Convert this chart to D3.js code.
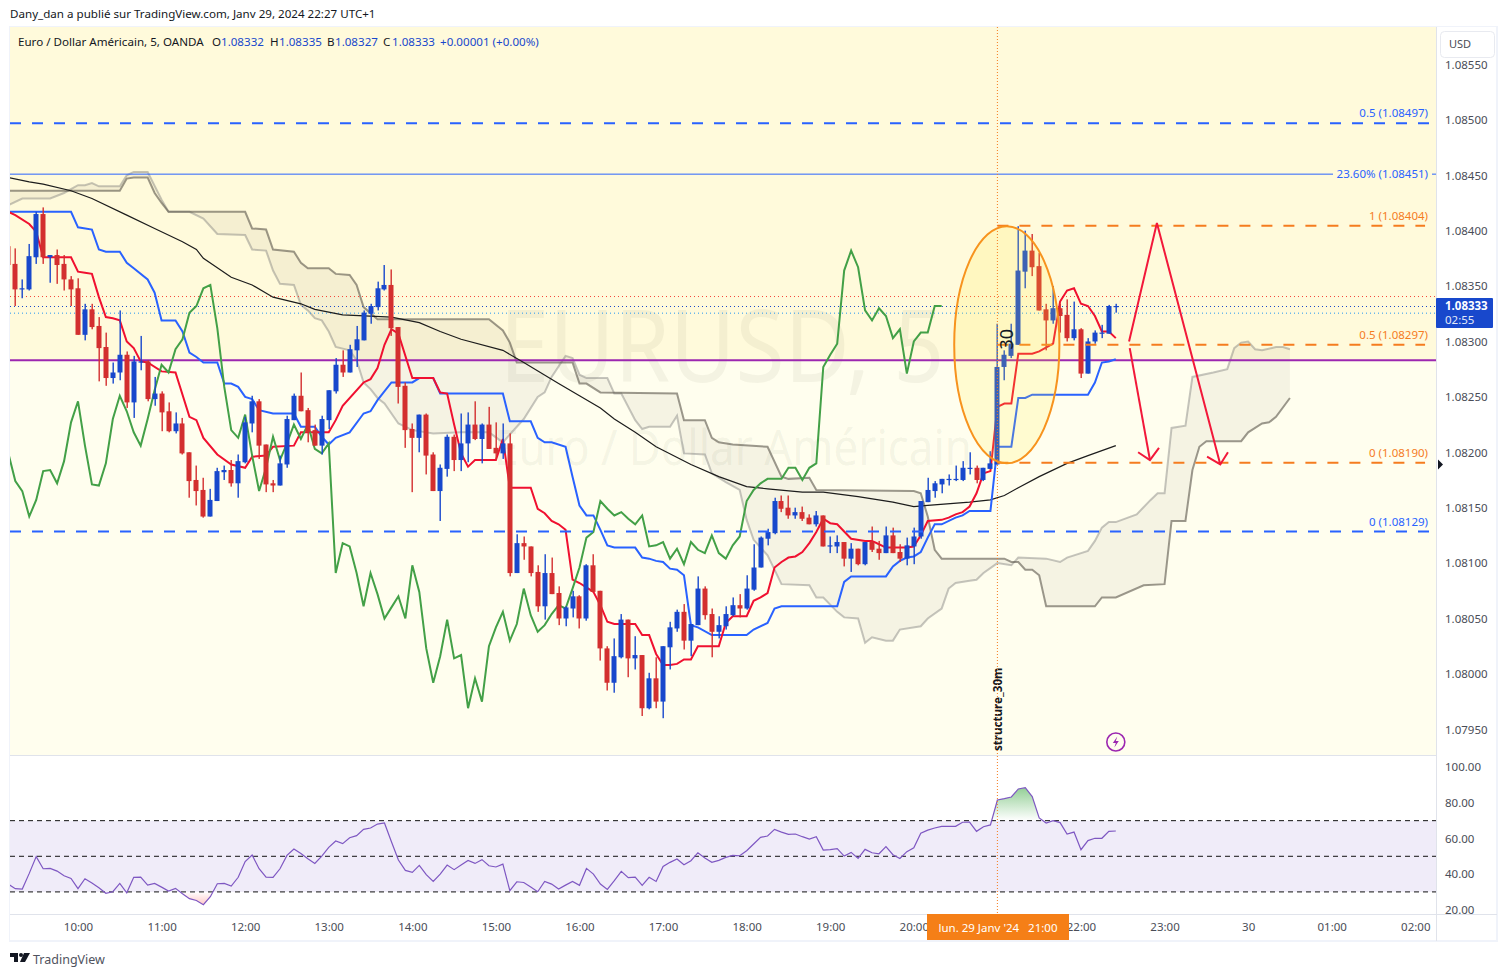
<!DOCTYPE html>
<html>
  <head>
    <meta charset="utf-8" />
    <title>EURUSD 5</title>
    <script src="https://d3js.org/d3.v7.min.js"></script>
    <style type="text/css">
      html, body { margin: 0; padding: 0; background: #fff; }
      svg { display: block; }
      text { font-family: "Noto Sans", "Open Sans", sans-serif; }
    </style>
  </head>

  <body>
    <svg id="chart" width="1508" height="977"></svg>
    <script type="text/javascript">
      // all prices are in points above 1.08000 (338 = 1.08338), bars are counted from 10:00
      var firstBar = -10;
      var opens = [387,371,348,348,377,416,377,379,371,357,349,307,330,315,296,268,273,289,246,282,283,249,254,238,220,227,201,176,167,143,157,183,185,173,192,227,247,208,173,171,190,230,252,239,221,207,230,256,280,273,293,302,326,332,348,352,314,261,222,214,235,199,166,186,215,194,209,226,213,226,205,200,209,92,119,116,93,62,92,74,51,60,71,51,99,76,24,-7,16,50,15,18,-30,-3,-24,25,42,57,31,45,78,55,39,44,54,63,60,77,97,123,128,157,151,144,147,142,136,144,116,116,120,105,114,100,120,114,110,126,111,105,116,125,156,166,172,177,176,176,186,187,176,186,190,278,288,298,364,383,369,330,320,331,325,304,312,272,301,309,308,332];
      var highs = [387,385,357,389,418,422,379,384,379,360,358,335,335,323,309,282,329,292,288,306,284,269,256,246,237,232,201,189,178,168,187,189,194,199,233,252,249,208,176,198,234,254,273,241,226,234,257,286,293,298,315,329,335,355,370,366,314,264,227,235,236,201,190,217,217,236,237,247,227,242,228,227,218,127,125,116,99,109,106,80,62,76,72,100,109,76,26,33,55,50,35,18,2,16,26,48,59,64,46,89,80,60,53,62,70,73,90,118,125,132,160,162,162,151,152,145,148,144,125,126,120,119,114,120,134,121,134,133,118,124,133,157,178,175,177,181,189,193,201,189,187,202,317,293,317,405,401,398,381,335,351,335,339,337,313,304,311,316,334,335];
      var lows = [370,333,340,347,371,371,354,353,347,333,307,302,312,265,261,263,266,241,232,275,247,243,220,219,218,199,160,153,142,143,157,176,170,160,191,219,195,165,165,171,187,230,238,210,207,199,222,254,269,273,278,302,317,329,347,306,245,205,165,201,181,166,139,179,184,184,192,212,191,204,194,195,89,92,104,89,57,50,73,45,44,52,42,49,75,13,-14,-16,15,-2,5,-37,-31,-30,-39,5,39,23,17,45,50,16,33,41,53,52,59,76,97,117,127,147,141,141,139,136,134,116,110,110,98,93,99,99,111,104,110,110,102,99,100,123,156,160,164,171,175,175,181,173,175,186,190,266,286,298,349,360,329,293,317,309,301,302,268,272,299,304,308,327];
      var closes = [370,348,349,378,416,377,379,370,357,348,307,330,314,295,268,273,289,246,283,283,249,254,237,220,227,200,175,166,143,158,184,185,173,193,228,247,207,172,171,191,231,252,238,219,207,231,257,280,273,294,303,327,333,349,352,313,260,221,214,235,198,166,187,215,194,209,226,213,226,204,200,209,92,119,116,92,62,92,73,51,61,71,51,99,75,24,-7,17,50,15,18,-30,-3,-24,26,43,57,31,46,78,54,39,45,55,63,60,78,97,124,129,157,150,144,147,141,136,144,116,117,120,105,114,100,120,113,110,126,110,105,117,125,157,167,173,177,177,177,187,187,176,187,191,278,289,299,365,383,368,329,320,331,324,304,312,272,301,309,309,333,333];

      // indicators as [bar, points] corners
      var conversion = [[-10,418],[-9,415],[-7,407],[-6,400],[-5,377],[-1,377],[0,364],[1,363],[2,362],[3,341],[4,323],[5,322],[6,320],[7,301],[8,295],[9,283],[10,282],[12,274],[14,273],[16,233],[17,230],[18,214],[20,199],[22,190],[24,187],[25,197],[27,198],[28,206],[31,207],[32,219],[36,219],[37,230],[38,243],[41,264],[42,267],[43,277],[44,298],[45,312],[46,308],[48,268],[51,268],[52,255],[53,254],[54,226],[55,200],[56,188],[57,194],[60,194],[61,213],[62,169],[65,169],[66,150],[67,146],[68,139],[69,136],[70,131],[71,86],[72,83],[73,79],[74,75],[75,63],[76,48],[77,46],[80,46],[81,36],[82,36],[83,19],[84,9],[85,9],[86,10],[87,14],[88,14],[89,26],[92,26],[93,47],[94,53],[96,53],[97,67],[98,70],[99,74],[100,97],[101,102],[102,106],[103,107],[104,111],[105,119],[106,129],[107,141],[108,137],[109,136],[111,123],[113,121],[114,121],[115,118],[116,115],[119,115],[120,116],[121,126],[122,139],[124,140],[125,142],[126,145],[127,147],[128,152],[129,164],[130,182],[131,184],[132,242],[133,245],[134,245],[135,290],[137,290],[138,292],[140,299],[141,337],[142,347],[143,349],[144,335],[145,333],[146,324],[147,310],[148,310],[149,304]];
      var baseLine = [[-10,418],[-1,418],[0,404],[2,402],[3,384],[4,382],[6,382],[7,372],[8,367],[10,357],[11,345],[12,320],[14,320],[15,310],[16,291],[17,287],[18,282],[20,282],[21,263],[22,263],[23,260],[24,251],[25,249],[26,239],[28,236],[31,236],[32,224],[34,224],[35,215],[36,208],[37,214],[39,219],[41,236],[42,238],[43,248],[45,264],[48,264],[49,268],[51,268],[52,254],[61,254],[62,229],[65,229],[66,214],[67,210],[68,210],[70,206],[71,179],[72,153],[73,144],[74,144],[75,131],[76,117],[77,115],[80,115],[81,106],[82,105],[83,103],[84,102],[85,96],[86,95],[87,90],[88,45],[89,43],[91,36],[96,36],[97,41],[99,47],[100,60],[101,62],[109,62],[110,84],[111,89],[116,89],[117,98],[118,103],[119,106],[120,107],[121,111],[122,124],[123,136],[124,136],[126,142],[127,144],[128,148],[131,148],[132,206],[134,206],[135,250],[136,250],[137,253],[145,253],[146,264],[147,282],[148,283],[149,285]];
      var spanA = [[-10,424],[-8,430],[-4,430],[-2,435],[0,442],[1,442],[2,444],[3,441],[6,441],[7,451],[8,454],[10,454],[12,429],[13,418],[16,418],[18,412],[20,398],[24,397],[25,384],[27,383],[28,365],[29,353],[31,352],[32,334],[33,329],[34,322],[35,320],[36,310],[37,296],[39,293],[40,284],[41,264],[42,258],[43,250],[44,245],[46,227],[48,221],[51,218],[55,219],[59,219],[61,210],[64,231],[66,251],[67,255],[68,269],[70,288],[71,286],[72,271],[73,268],[76,268],[77,254],[78,254],[80,230],[81,222],[82,224],[85,224],[86,234],[87,200],[90,199],[91,182],[93,174],[95,167],[96,140],[97,122],[99,108],[101,82],[105,81],[106,70],[107,70],[109,57],[110,52],[112,51],[113,29],[114,34],[116,31],[117,31],[118,41],[121,44],[122,51],[124,60],[125,78],[126,83],[128,85],[129,86],[130,92],[132,101],[134,99],[135,106],[139,105],[141,102],[142,106],[145,112],[146,121],[147,133],[148,138],[149,138],[152,145],[154,158],[155,164],[156,164],[157,223],[159,225],[160,269],[163,273],[165,276],[166,295],[167,300],[168,301],[169,294],[170,293],[172,296],[173,296],[174,294]];
      var spanB = [[-10,437],[6,437],[7,448],[8,449],[10,449],[11,435],[12,426],[13,418],[24,418],[25,403],[27,402],[28,384],[31,382],[32,372],[33,367],[36,367],[37,362],[39,361],[40,352],[41,332],[43,321],[59,321],[61,311],[62,300],[63,282],[71,282],[72,263],[73,263],[75,255],[86,254],[87,230],[90,230],[91,214],[92,210],[94,208],[99,206],[101,179],[102,177],[105,178],[106,167],[120,166],[121,164],[122,143],[123,113],[124,105],[133,105],[134,102],[135,102],[136,95],[137,95],[138,90],[139,62],[146,62],[147,70],[149,70],[153,81],[156,82],[157,139],[159,139],[160,185],[161,206],[162,211],[167,211],[168,219],[170,227],[171,228],[172,233],[174,250]];
      var movingAvg = [[-10,449],[-7,445],[-5,443],[-1,437],[2,430],[7,415],[11,403],[15,391],[17,384],[18,376],[22,359],[25,352],[28,341],[32,335],[34,330],[38,325],[45,323],[49,318],[52,310],[55,303],[61,293],[64,282],[69,263],[72,252],[75,241],[77,231],[80,219],[83,206],[88,190],[92,179],[96,170],[99,168],[104,165],[107,165],[112,161],[117,156],[120,152],[122,153],[128,156],[131,158],[133,162],[135,169],[138,179],[142,191],[145,198],[149,207]];
      var laggingShift = 25;

      var rsiValues = [34.4,31.8,31.6,40.4,49.8,43,43.2,41.7,39.1,37.6,31.8,37.4,35,32.3,29.2,30.1,34.8,29.5,38.2,38.3,33.8,34.8,32.7,30.5,32,29,26.2,25.2,22.8,27.3,34.6,34.8,33.3,38.2,47,50.7,43,38.3,38.2,43,50.5,54.1,51.6,48.6,46,50.1,55,58.6,57.1,60.4,61.6,65.1,65.9,68.1,68.7,58.2,47.9,42.1,41,44.9,39.7,35.9,40,45.1,42.5,45.1,47.7,46,48.1,44.7,44,45.6,30.7,35.7,35.3,32.7,30.1,35.9,34.4,31.6,33.8,35.9,33.7,43.2,40,34.4,31.4,36.3,41.5,38,38.3,33.7,38.2,35.9,44.3,46.6,48.5,45.3,47.5,52,49,46.6,47.7,49.4,50.5,50.3,53.1,56.9,60.6,61.4,65.1,63.6,62.3,62.5,61,59.7,61,53.5,53.7,54.3,50.1,52.2,48.8,53.9,52,51.4,55.4,50.9,48.8,52.6,54.8,62.9,64.7,65.9,66.8,66.8,66.8,69.1,69.2,64,66.6,67.6,81.6,82.4,83.3,87.8,88.5,83.5,71.5,68.7,70,68.9,62.5,63.6,53.7,58.8,60.1,60.1,64,64.2];

      var priceTicks = [-50,0,50,100,150,200,250,300,350,400,450,500,550];
      var rsiTicks = [20,40,60,80,100];
      var rsiBands = [70,50,30];
      // 21:00 sits under the orange crosshair label
      var timeTicks = [0,12,24,36,48,60,72,84,96,108,120,144,156,168,180,192];
      var timeLabels = ['10:00','11:00','12:00','13:00','14:00','15:00','16:00','17:00','18:00','19:00','20:00','22:00','23:00','30','01:00','02:00'];

      // level heights as they lie in the picture, labels as printed on it
      var blueLevels = [[498,'0.5 (1.08497)'],[129.5,'0 (1.08129)']];
      var retraceLevel = [452,'23.60% (1.08451)'];
      var orangeLevels = [[405.5,'1 (1.08404)'],[298,'0.5 (1.08297)'],[191.5,'0 (1.08190)']];
      var orangeBars = [132,193.4];
      var purpleLevel = 284;
      var dottedLevels = [[342,'#f44336'],[333,'#1848cc'],[327,'#2196f3']];
      var lastPrice = 333;
      var crossBar = 132;
      var ellipseBars = [125.8,140.9];
      var ellipsePts = [191,405];
      var downArrow = [[151,295],[153.9,194]];
      var downHead = [[152.2,201],[153.9,194],[155.2,205]];
      var swingArrow = [[150.9,301],[154.9,408],[164,190]];
      var swingHead = [[162.1,197],[164,190],[165.1,201]];

      var paneL = 10, paneR = 1436, paneT = 27, paneB = 755, rsiB = 914, axisB = 941;
      var bgTop = '#fffadb', bgLow = '#fffeee';
      var upCol = '#1848cc', downCol = '#d32f2f', textCol = '#131722', axisCol = '#4a4d57';

      var svg = d3.select('#chart');
      var defs = svg.append('defs');
      defs.append('clipPath').attr('id', 'pane').append('rect')
        .attr('x', paneL).attr('y', paneT).attr('width', paneR - paneL).attr('height', paneB - paneT);
      defs.append('clipPath').attr('id', 'rsiPane').append('rect')
        .attr('x', paneL).attr('y', paneB).attr('width', paneR - paneL).attr('height', rsiB - paneB);

      var scX = d3.scaleLinear().domain([-9.763, 194.97]).range([paneL, paneR]),
        scY = d3.scaleLinear().domain([584.8, -72.2]).range([paneT, paneB]),
        scR = d3.scaleLinear().domain([106.3, 17.6]).range([paneB + 1, rsiB]);

      var bars = opens.map((o, k) => ({
        bar: firstBar + k, o: o, h: highs[k], l: lows[k], c: closes[k], rsi: rsiValues[k],
      }));

      // frame and backgrounds
      svg.append('rect').attr('x', 9).attr('y', 26).attr('width', 1489).attr('height', 916).attr('fill', '#f0f3fa');
      svg.append('rect').attr('x', paneL).attr('y', paneT).attr('width', 1486).attr('height', axisB - paneT - 1).attr('fill', '#fff');
      svg.append('rect').attr('x', paneL).attr('y', paneT).attr('width', paneR - paneL).attr('height', scY(purpleLevel) - paneT).attr('fill', bgTop);
      svg.append('rect').attr('x', paneL).attr('y', scY(purpleLevel)).attr('width', paneR - paneL).attr('height', paneB - scY(purpleLevel)).attr('fill', bgLow);

      var main = svg.append('g').attr('clip-path', 'url(#pane)');

      // watermark
      main.append('text').attr('x', 722).attr('y', 382).attr('text-anchor', 'middle')
        .attr('font-size', 100).attr('textLength', 445).attr('lengthAdjust', 'spacingAndGlyphs')
        .attr('fill', 'rgba(110,110,90,0.08)').text('EURUSD, 5');
      main.append('text').attr('x', 733).attr('y', 465).attr('text-anchor', 'middle')
        .attr('font-size', 50).attr('textLength', 478).attr('lengthAdjust', 'spacingAndGlyphs')
        .attr('fill', 'rgba(110,110,90,0.08)').text('Euro / Dollar Américain');

      var line = d3.line().x((d) => scX(d[0])).y((d) => scY(d[1]));

      // cloud
      main.append('path').attr('d', line(spanA.concat(spanB.slice().reverse())) + 'Z')
        .attr('fill', 'rgba(110,100,80,0.07)');
      main.append('path').attr('d', line(spanA)).attr('fill', 'none')
        .attr('stroke', 'rgba(120,120,120,0.42)').attr('stroke-width', 2);
      main.append('path').attr('d', line(spanB)).attr('fill', 'none')
        .attr('stroke', 'rgba(90,85,75,0.6)').attr('stroke-width', 2);

      // horizontal levels
      main.selectAll('.dot').data(dottedLevels).enter().append('line')
        .attr('x1', paneL).attr('x2', paneR)
        .attr('y1', (d) => scY(d[0]) + 0.5).attr('y2', (d) => scY(d[0]) + 0.5)
        .attr('stroke', (d) => d[1]).attr('stroke-dasharray', '1 3');
      main.append('line').attr('x1', paneL).attr('x2', paneR)
        .attr('y1', scY(purpleLevel)).attr('y2', scY(purpleLevel))
        .attr('stroke', '#9c27b0').attr('stroke-width', 2);

      // indicator lines
      main.append('path').attr('d', line(movingAvg)).attr('fill', 'none').attr('stroke', '#1c1c1c').attr('stroke-width', 1.2);
      main.append('path').attr('d', line(baseLine)).attr('fill', 'none').attr('stroke', '#2962ff').attr('stroke-width', 2);
      main.append('path').attr('d', line(conversion)).attr('fill', 'none').attr('stroke', '#f01030').attr('stroke-width', 2);
      var lagging = closes.slice(laggingShift).map((c, k) => [firstBar + k, c]);
      main.append('path').attr('d', line(lagging)).attr('fill', 'none').attr('stroke', '#43a047').attr('stroke-width', 2);

      // candles
      var col = (d) => (d.c >= d.o ? upCol : downCol);
      var snapX = (d) => Math.round(scX(d.bar));
      main.selectAll('.wick').data(bars).enter().append('rect')
        .attr('x', (d) => snapX(d) - 0.5).attr('width', 1.4)
        .attr('y', (d) => scY(d.h)).attr('height', (d) => scY(d.l) - scY(d.h))
        .attr('fill', col);
      main.selectAll('.body').data(bars).enter().append('rect')
        .attr('x', (d) => snapX(d) - 2.5).attr('width', 5)
        .attr('y', (d) => scY(Math.max(d.o, d.c)))
        .attr('height', (d) => Math.max(1.2, Math.abs(scY(d.o) - scY(d.c))))
        .attr('fill', col);

      // fib lines and labels
      main.selectAll('.fibb').data(blueLevels).enter().append('line')
        .attr('x1', paneL).attr('x2', paneR)
        .attr('y1', (d) => scY(d[0])).attr('y2', (d) => scY(d[0]))
        .attr('stroke', '#2962ff').attr('stroke-width', 2).attr('stroke-dasharray', '11 11');
      main.selectAll('.fibo').data(orangeLevels).enter().append('line')
        .attr('x1', scX(orangeBars[0])).attr('x2', scX(orangeBars[1]))
        .attr('y1', (d) => scY(d[0])).attr('y2', (d) => scY(d[0]))
        .attr('stroke', '#f57c1f').attr('stroke-width', 2).attr('stroke-dasharray', '11 11');
      main.append('line').attr('x1', paneL).attr('x2', paneR)
        .attr('y1', scY(retraceLevel[0])).attr('y2', scY(retraceLevel[0]))
        .attr('stroke', '#2962ff');
      main.append('rect').attr('x', 1333).attr('y', scY(retraceLevel[0]) - 3).attr('width', 99).attr('height', 6).attr('fill', bgTop);
      main.append('text').attr('x', 1428).attr('y', scY(retraceLevel[0]) + 4).attr('text-anchor', 'end')
        .attr('font-size', 11.5).attr('fill', '#2962ff').text(retraceLevel[1]);
      main.selectAll('.lblb').data(blueLevels).enter().append('text')
        .attr('x', 1428).attr('y', (d) => scY(d[0]) - 6).attr('text-anchor', 'end')
        .attr('font-size', 11.5).attr('fill', '#2962ff').text((d) => d[1]);
      main.selectAll('.lblo').data(orangeLevels).enter().append('text')
        .attr('x', 1428).attr('y', (d) => scY(d[0]) - 6).attr('text-anchor', 'end')
        .attr('font-size', 11.5).attr('fill', '#f57c1f').text((d) => d[1]);

      // ellipse drawing
      main.append('ellipse')
        .attr('cx', (scX(ellipseBars[0]) + scX(ellipseBars[1])) / 2)
        .attr('cy', (scY(ellipsePts[0]) + scY(ellipsePts[1])) / 2)
        .attr('rx', (scX(ellipseBars[1]) - scX(ellipseBars[0])) / 2)
        .attr('ry', (scY(ellipsePts[0]) - scY(ellipsePts[1])) / 2)
        .attr('fill', 'rgba(255,235,59,0.16)').attr('stroke', '#f7931e').attr('stroke-width', 2);

      // red arrows
      [downArrow, downHead, swingArrow, swingHead].forEach((a) => {
        main.append('path').attr('d', line(a)).attr('fill', 'none').attr('stroke', '#f2183a').attr('stroke-width', 2);
      });

      // drawing texts
      var crossX = scX(crossBar);
      main.append('text').attr('transform', 'translate(' + (crossX + 16) + ',' + scY(303) + ') rotate(-90)')
        .attr('text-anchor', 'middle').attr('font-size', 18).attr('fill', textCol).text('30');
      main.append('text').attr('transform', 'translate(' + (crossX + 5) + ',751) rotate(-90)')
        .attr('font-size', 11.6).attr('font-weight', 'bold').attr('fill', textCol).text('structure_30m');

      // lightning icon
      var bolt = main.append('g').attr('transform', 'translate(' + scX(149) + ',742)');
      bolt.append('circle').attr('r', 9).attr('fill', 'none').attr('stroke', '#9c27b0').attr('stroke-width', 1.6);
      bolt.append('path').attr('d', 'M1.5,-5.5L-3,1H0L-1.5,5.5L3,-1H0Z').attr('fill', '#9c27b0');

      // rsi pane
      var rsiG = svg.append('g').attr('clip-path', 'url(#rsiPane)');
      rsiG.append('rect').attr('x', paneL).attr('width', paneR - paneL)
        .attr('y', scR(rsiBands[0])).attr('height', scR(rsiBands[2]) - scR(rsiBands[0]))
        .attr('fill', '#f0ecf9');
      var grad = defs.append('linearGradient').attr('id', 'ob').attr('gradientUnits', 'userSpaceOnUse')
        .attr('x1', 0).attr('x2', 0).attr('y1', scR(90)).attr('y2', scR(70));
      grad.append('stop').attr('offset', 0).attr('stop-color', '#4caf50').attr('stop-opacity', 0.65);
      grad.append('stop').attr('offset', 1).attr('stop-color', '#4caf50').attr('stop-opacity', 0);
      var gradLow = defs.append('linearGradient').attr('id', 'os').attr('gradientUnits', 'userSpaceOnUse')
        .attr('x1', 0).attr('x2', 0).attr('y1', scR(30)).attr('y2', scR(20));
      gradLow.append('stop').attr('offset', 0).attr('stop-color', '#ff5252').attr('stop-opacity', 0);
      gradLow.append('stop').attr('offset', 1).attr('stop-color', '#ff5252').attr('stop-opacity', 0.45);
      defs.append('clipPath').attr('id', 'above').append('rect').attr('x', paneL).attr('y', paneB)
        .attr('width', paneR - paneL).attr('height', scR(70) - paneB);
      defs.append('clipPath').attr('id', 'below').append('rect').attr('x', paneL).attr('y', scR(30))
        .attr('width', paneR - paneL).attr('height', rsiB - scR(30));
      var rsiArea = (lvl) => d3.area().x((d) => scX(d.bar)).y0(scR(lvl)).y1((d) => scR(d.rsi))(bars);
      rsiG.append('path').attr('d', rsiArea(70)).attr('fill', 'url(#ob)').attr('clip-path', 'url(#above)');
      rsiG.append('path').attr('d', rsiArea(30)).attr('fill', 'url(#os)').attr('clip-path', 'url(#below)');
      rsiG.selectAll('.band').data(rsiBands).enter().append('line')
        .attr('x1', paneL).attr('x2', paneR)
        .attr('y1', (d) => scR(d)).attr('y2', (d) => scR(d))
        .attr('stroke', '#111').attr('stroke-dasharray', '5 4');
      rsiG.append('path')
        .attr('d', d3.line().x((d) => scX(d.bar)).y((d) => scR(d.rsi))(bars))
        .attr('fill', 'none').attr('stroke', '#7e57c2').attr('stroke-width', 1.2);

      // separators
      svg.append('line').attr('x1', paneL).attr('x2', paneR).attr('y1', paneB + 0.5).attr('y2', paneB + 0.5).attr('stroke', '#e0e3eb');
      svg.append('line').attr('x1', paneL).attr('x2', 1497).attr('y1', rsiB + 0.5).attr('y2', rsiB + 0.5).attr('stroke', '#e0e3eb');
      svg.append('line').attr('x1', paneR + 0.5).attr('x2', paneR + 0.5).attr('y1', paneT).attr('y2', axisB).attr('stroke', '#e0e3eb');

      // crosshair
      svg.append('line').attr('x1', crossX).attr('x2', crossX).attr('y1', paneT).attr('y2', rsiB)
        .attr('stroke', '#f57c1f').attr('stroke-dasharray', '1 2');

      // axes
      var priceAxis = d3.axisRight(scY).tickValues(priceTicks).tickSize(0).tickPadding(9)
        .tickFormat((d) => (1.08 + d / 100000).toFixed(5));
      var rsiAxis = d3.axisRight(scR).tickValues(rsiTicks).tickSize(0).tickPadding(9)
        .tickFormat((d) => d.toFixed(2));
      var timeAxis = d3.axisBottom(scX).tickValues(timeTicks).tickSize(0).tickPadding(9)
        .tickFormat((d, k) => timeLabels[k]);
      var priceG = svg.append('g').attr('transform', 'translate(' + paneR + ',-1)').call(priceAxis);
      [priceG,
        svg.append('g').attr('transform', 'translate(' + paneR + ',0)').call(rsiAxis),
        svg.append('g').attr('transform', 'translate(0,' + rsiB + ')').call(timeAxis)].forEach((g) => {
        g.select('.domain').remove();
        g.selectAll('text').attr('font-size', 11.5).attr('fill', axisCol).style('font-family', '"Noto Sans", sans-serif');
      });

      // last price tag
      var tagY = scY(lastPrice);
      svg.append('rect').attr('x', paneR).attr('y', tagY - 8).attr('width', 57).attr('height', 30).attr('rx', 1).attr('fill', upCol);
      svg.append('text').attr('x', 1445).attr('y', tagY + 4).attr('font-size', 11.5).attr('font-weight', 'bold').attr('fill', '#fff').text((1.08 + lastPrice / 100000).toFixed(5));
      svg.append('text').attr('x', 1445).attr('y', tagY + 18).attr('font-size', 11.5).attr('fill', '#e3e8f8').text('02:55');
      svg.append('path').attr('d', 'M' + (paneR + 2) + ',' + (scY(190) - 5) + 'l5,5l-5,5Z').attr('fill', '#131722');

      // USD button
      svg.append('rect').attr('x', 1440.5).attr('y', 31.5).attr('width', 54).attr('height', 26).attr('rx', 4).attr('fill', '#fff').attr('stroke', '#e8eaf0');
      svg.append('text').attr('x', 1449).attr('y', 48).attr('font-size', 11).attr('fill', axisCol).text('USD');

      // crosshair time label
      svg.append('rect').attr('x', 927).attr('y', rsiB).attr('width', 142).attr('height', 26).attr('fill', '#f57f17');
      svg.append('text').attr('x', 998).attr('y', 932).attr('text-anchor', 'middle').attr('font-size', 11.5)
        .attr('fill', '#fff').style('white-space', 'pre').text("lun. 29 Janv '24   21:00");

      // header, legend, footer
      svg.append('text').attr('x', 10).attr('y', 18).attr('font-size', 11.6).attr('fill', textCol)
        .text('Dany_dan a publié sur TradingView.com, Janv 29, 2024 22:27 UTC+1');
      var legendDark = [[18,'Euro / Dollar Américain, 5, OANDA'],[212,'O'],[270,'H'],[327,'B'],[383,'C']];
      var legendBlue = [[221,'1.08332'],[279,'1.08335'],[335,'1.08327'],[392,'1.08333'],[440,'+0.00001 (+0.00%)']];
      svg.selectAll('.lgd').data(legendDark).enter().append('text')
        .attr('x', (d) => d[0]).attr('y', 46).attr('font-size', 11.6).attr('fill', textCol).text((d) => d[1]);
      svg.selectAll('.lgb').data(legendBlue).enter().append('text')
        .attr('x', (d) => d[0]).attr('y', 46).attr('font-size', 11.6).attr('fill', upCol).text((d) => d[1]);

      var logo = svg.append('g').attr('fill', '#131722').attr('transform', 'translate(10,953)');
      logo.append('path').attr('d', 'M0,0H8V9H4V4H0Z');
      logo.append('circle').attr('cx', 11).attr('cy', 2).attr('r', 2);
      logo.append('path').attr('d', 'M14,0H20L15,9H10Z');
      svg.append('text').attr('x', 33).attr('y', 964).attr('font-size', 12.5).attr('fill', '#50535e').text('TradingView');
    </script>
  </body>
</html>
